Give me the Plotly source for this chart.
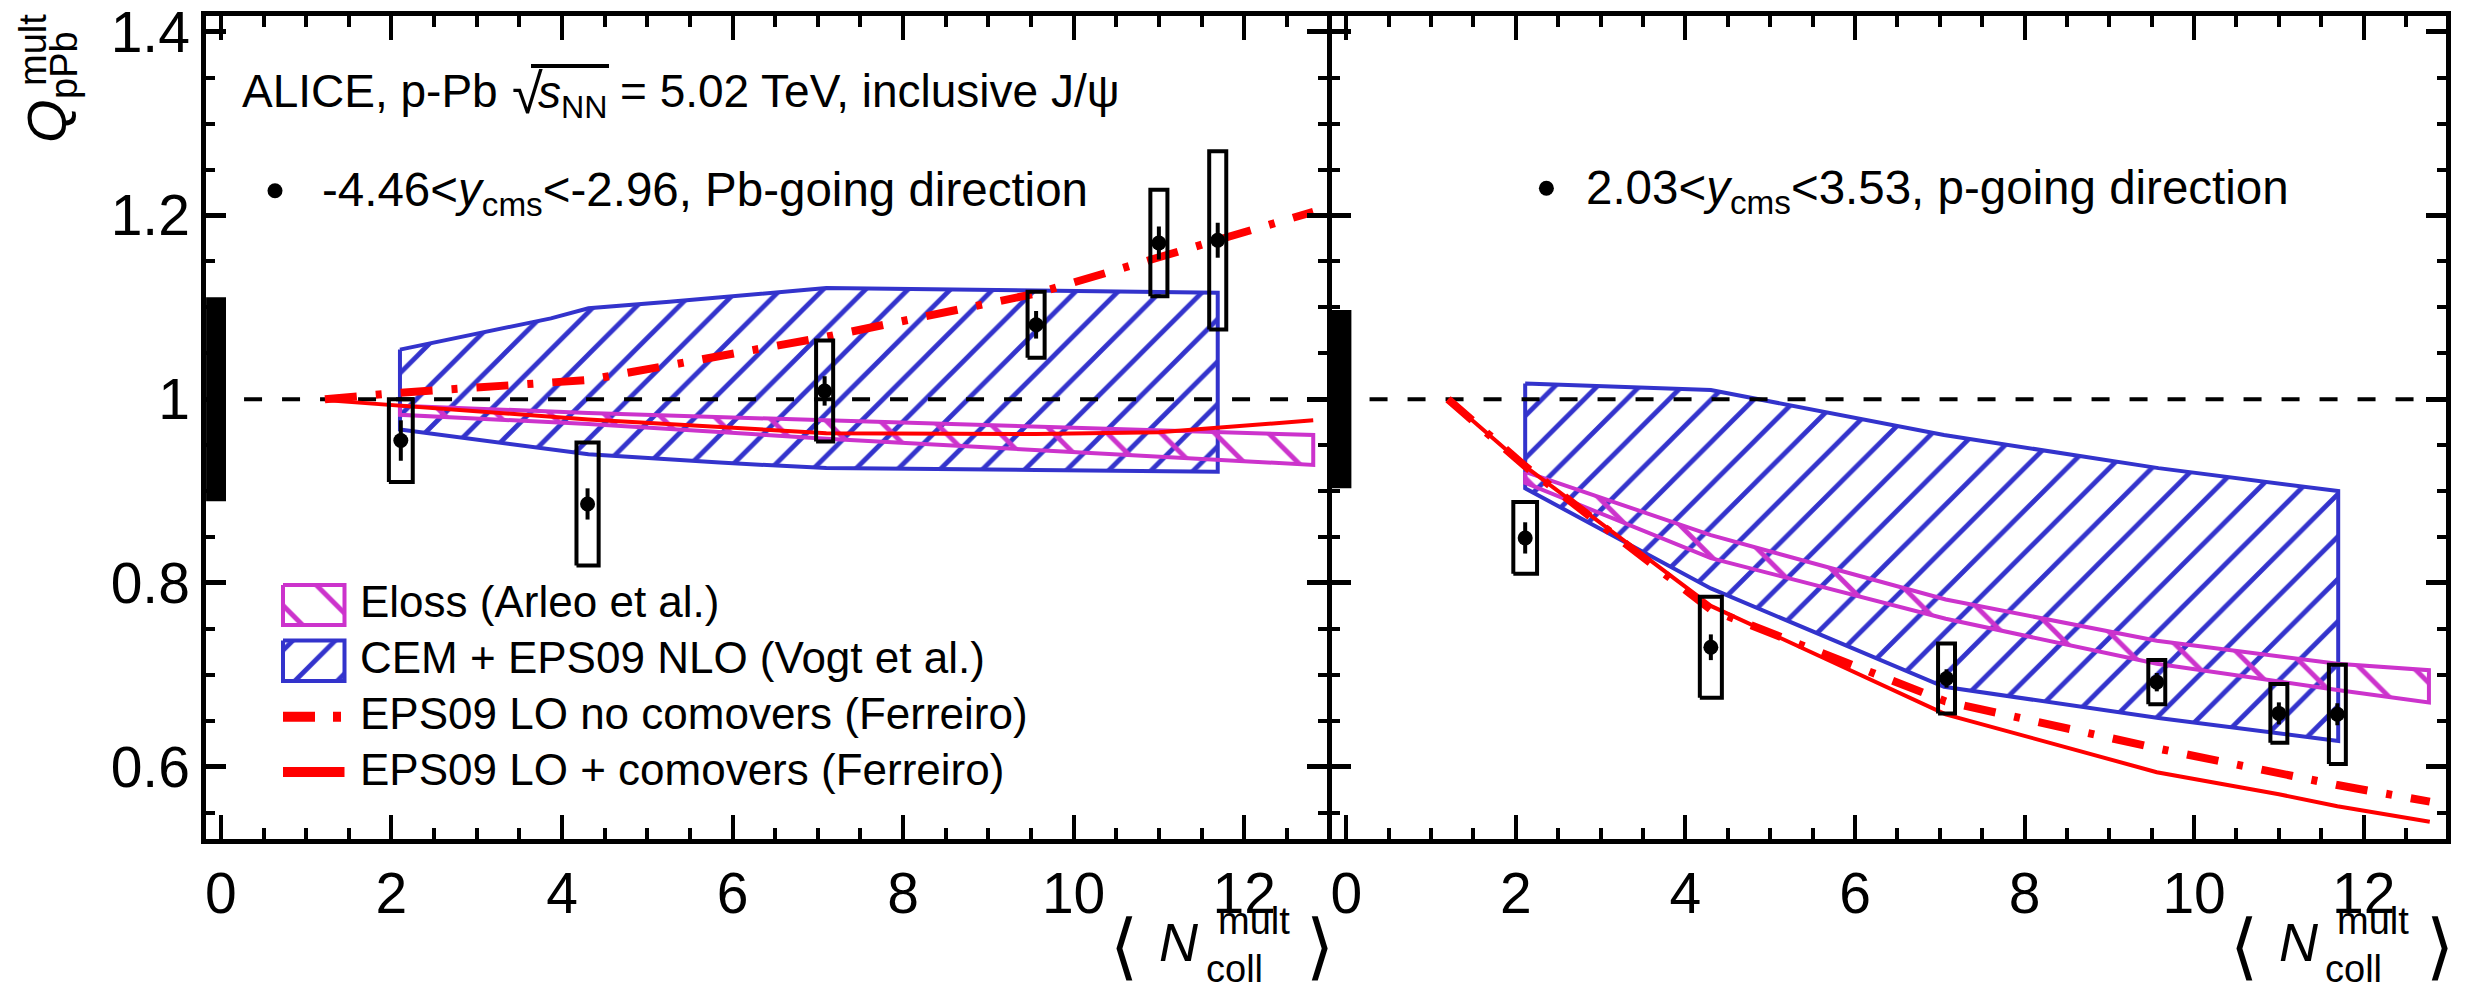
import plotly.graph_objects as go

FONT = "Liberation Sans, Arial, Helvetica, sans-serif"
W, H = 2471, 991

BLUE = "rgb(51,51,204)"
MAGENTA = "rgb(204,51,204)"
RED = "rgb(255,0,0)"

# ---------------------------------------------------------------- data
# <N_coll^mult> of the multiplicity classes
ncoll = [2.11, 4.30, 7.08, 9.56, 11.00, 11.69]
box_halfwidth = [0.14, 0.13, 0.10, 0.10, 0.10, 0.10]

# Q_pPb^mult, -4.46 < y_cms < -2.96 (Pb-going)
q_bwd = [0.955, 0.886, 1.009, 1.081, 1.170, 1.173]
q_bwd_stat = [0.022, 0.017, 0.016, 0.015, 0.018, 0.019]
q_bwd_syst = [0.045, 0.067, 0.055, 0.036, 0.058, 0.097]
glob_bwd = 0.111

# Q_pPb^mult, 2.03 < y_cms < 3.53 (p-going)
q_fwd = [0.849, 0.730, 0.696, 0.692, 0.658, 0.657]
q_fwd_stat = [0.017, 0.014, 0.010, 0.010, 0.012, 0.012]
q_fwd_syst = [0.039, 0.055, 0.038, 0.024, 0.032, 0.054]
glob_fwd = 0.097

# Eloss (Arleo et al.)
eloss_bwd_x = [2.10, 4.31, 7.10, 9.56, 11.69, 12.81]
eloss_bwd_hi = [0.993, 0.985, 0.977, 0.970, 0.965, 0.961]
eloss_bwd_lo = [0.983, 0.973, 0.957, 0.945, 0.934, 0.9285]
eloss_fwd_x = [2.11, 4.30, 7.07, 9.56, 11.69, 12.77]
eloss_fwd_hi = [0.921, 0.852, 0.782, 0.737, 0.712, 0.705]
eloss_fwd_lo = [0.909, 0.827, 0.761, 0.712, 0.6835, 0.670]

# CEM + EPS09 NLO (Vogt et al.)
cem_bwd_x_hi = [2.10, 2.85, 3.87, 4.31, 5.26, 7.10, 9.56, 11.00, 11.69]
cem_bwd_hi = [1.054, 1.068, 1.088, 1.099, 1.106, 1.121, 1.118, 1.117, 1.116]
cem_bwd_x_lo = [2.10, 4.31, 5.85, 7.10, 9.56, 11.00, 11.69]
cem_bwd_lo = [0.967, 0.940, 0.931, 0.925, 0.923, 0.922, 0.921]
cem_fwd_x = [2.11, 4.30, 7.05, 9.58, 11.70]
cem_fwd_hi = [1.017, 1.010, 0.961, 0.925, 0.900]
cem_fwd_lo = [0.903, 0.794, 0.687, 0.653, 0.628]

# EPS09 LO (Ferreiro), without / with comovers
ferr_bwd_x = [1.22, 2.10, 4.31, 7.10, 9.56, 11.00, 11.69, 12.81]
ferr_bwd_nocomov = [1.000, 1.007, 1.021, 1.068, 1.115, 1.155, 1.175, 1.204]
ferr_bwd_comov = [0.999, 0.993, 0.978, 0.963, 0.962, 0.964, 0.969, 0.977]
ferr_fwd_x = [1.20, 2.11, 4.30, 7.07, 9.56, 11.00, 11.69, 12.78]
ferr_fwd_nocomov = [1.000, 0.927, 0.771, 0.671, 0.620, 0.593, 0.580, 0.562]
ferr_fwd_comov = [1.000, 0.927, 0.775, 0.657, 0.594, 0.570, 0.557, 0.540]

legend_labels = ["Eloss (Arleo et al.)", "CEM + EPS09 NLO (Vogt et al.)",
                 "EPS09 LO no comovers (Ferreiro)", "EPS09 LO + comovers (Ferreiro)"]

# ---------------------------------------------------------------- frame geometry
XR = [-0.174, 12.972]
YR = [0.5208, 1.4176]
LW = 4.5
dom_y = [1 - 839.45 / H, 1 - 15.55 / H]
dom_x1 = [206.05 / W, 1327.05 / W]
dom_x2 = [1331.55 / W, 2446.05 / W]
DASHDOT = "32px,19px,6px,19px"


def band(x_hi, y_hi, x_lo, y_lo, color, shape, size, solidity, xa, ya):
    xs = list(x_hi) + list(x_lo)[::-1] + [x_hi[0]]
    ys = list(y_hi) + list(y_lo)[::-1] + [y_hi[0]]
    return go.Scatter(x=xs, y=ys, mode="lines", fill="toself",
                      fillcolor="rgba(0,0,0,0)",
                      fillpattern=dict(shape=shape, fgcolor=color, bgcolor="rgba(0,0,0,0)",
                                       size=size, solidity=solidity, fillmode="replace"),
                      line=dict(color=color, width=4), xaxis=xa, yaxis=ya,
                      hoverinfo="skip")


def syst_boxes(x, y, s, hw, xa, ya):
    xs, ys = [], []
    for xi, yi, si, wi in zip(x, y, s, hw):
        xs += [xi - wi, xi + wi, xi + wi, xi - wi, xi - wi, None]
        ys += [yi - si, yi - si, yi + si, yi + si, yi - si, None]
    return go.Scatter(x=xs, y=ys, mode="lines", line=dict(color="black", width=4),
                      xaxis=xa, yaxis=ya, hoverinfo="skip")


def panel(xa, ya, q, stat, syst, glob, el_x, el_hi, el_lo,
          cx_hi, c_hi, cx_lo, c_lo, fx, f_nc, f_c):
    tr = []
    # global normalisation uncertainty at unity
    tr.append(go.Scatter(x=[XR[0], 0.06, 0.06, XR[0], XR[0]],
                         y=[1 - glob, 1 - glob, 1 + glob, 1 + glob, 1 - glob],
                         mode="lines", fill="toself", fillcolor="black",
                         line=dict(color="black", width=0), xaxis=xa, yaxis=ya))
    tr.append(band(cx_hi, c_hi, cx_lo, c_lo, BLUE, "/", 30, 0.16, xa, ya))
    tr.append(band(el_x, el_hi, el_x, el_lo, MAGENTA, "\\", 38, 0.13, xa, ya))
    tr.append(go.Scatter(x=XR, y=[1, 1], mode="lines",
                         line=dict(color="black", width=4, dash="18px,20px"),
                         xaxis=xa, yaxis=ya))
    tr.append(go.Scatter(x=fx, y=f_c, mode="lines", line=dict(color=RED, width=4),
                         xaxis=xa, yaxis=ya))
    tr.append(go.Scatter(x=fx, y=f_nc, mode="lines",
                         line=dict(color=RED, width=8, dash=DASHDOT),
                         xaxis=xa, yaxis=ya))
    tr.append(syst_boxes(ncoll, q, syst, box_halfwidth, xa, ya))
    tr.append(go.Scatter(x=ncoll, y=q, mode="markers",
                         marker=dict(color="black", size=15),
                         error_y=dict(type="data", array=stat, color="black",
                                      thickness=4, width=0),
                         xaxis=xa, yaxis=ya))
    return tr


traces = []
traces += panel("x", "y", q_bwd, q_bwd_stat, q_bwd_syst, glob_bwd,
                eloss_bwd_x, eloss_bwd_hi, eloss_bwd_lo,
                cem_bwd_x_hi, cem_bwd_hi, cem_bwd_x_lo, cem_bwd_lo,
                ferr_bwd_x, ferr_bwd_nocomov, ferr_bwd_comov)
traces += panel("x2", "y2", q_fwd, q_fwd_stat, q_fwd_syst, glob_fwd,
                eloss_fwd_x, eloss_fwd_hi, eloss_fwd_lo,
                cem_fwd_x, cem_fwd_hi, cem_fwd_x, cem_fwd_lo,
                ferr_fwd_x, ferr_fwd_nocomov, ferr_fwd_comov)

# ---------------------------------------------------------------- legend glyphs (pixel overlay)
def box_glyph(x0, x1, y0, y1, color, shape, size, solidity):
    return go.Scatter(x=[x0, x1, x1, x0, x0], y=[y0, y0, y1, y1, y0], mode="lines",
                      fill="toself", fillcolor="rgba(0,0,0,0)",
                      fillpattern=dict(shape=shape, fgcolor=color, bgcolor="rgba(0,0,0,0)",
                                       size=size, solidity=solidity, fillmode="replace"),
                      line=dict(color=color, width=4), xaxis="x3", yaxis="y3")

traces.append(box_glyph(283, 344.5, 585, 625, MAGENTA, "\\", 38, 0.13))
traces.append(box_glyph(283, 344.5, 640.5, 681, BLUE, "/", 30, 0.16))
traces.append(go.Scatter(x=[283, 341], y=[716.7, 716.7], mode="lines",
                         line=dict(color=RED, width=10, dash="32px,18px,8px,20px"),
                         xaxis="x3", yaxis="y3"))
traces.append(go.Scatter(x=[283, 344.5], y=[772, 772], mode="lines",
                         line=dict(color=RED, width=10), xaxis="x3", yaxis="y3"))
traces.append(go.Scatter(x=[275, 1546.4], y=[190.7, 188.3], mode="markers",
                         marker=dict(color="black", size=15), xaxis="x3", yaxis="y3"))

fig = go.Figure(traces)


def xaxis(domain, anchor):
    return dict(domain=domain, anchor=anchor, range=XR, showline=True, linewidth=LW,
                linecolor="black", mirror="ticks", ticks="inside", ticklen=25,
                tickwidth=4, tickcolor="black", tick0=0, dtick=2,
                ticklabeloverflow="allow", automargin=False,
                tickfont=dict(family=FONT, size=57, color="black"),
                showgrid=False, zeroline=False,
                minor=dict(tick0=0, dtick=0.5, ticks="inside", ticklen=12,
                           tickwidth=3.5, tickcolor="black", showgrid=False))


def yaxis(anchor, labels):
    return dict(domain=dom_y, anchor=anchor, range=YR, showline=True, linewidth=LW,
                linecolor="black", mirror="ticks", ticks="inside", ticklen=20,
                tickwidth=4.5, tickcolor="black", tick0=0, dtick=0.2,
                showticklabels=labels, ticklabeloverflow="allow", automargin=False,
                tickfont=dict(family=FONT, size=57, color="black"),
                showgrid=False, zeroline=False,
                minor=dict(tick0=0, dtick=0.05, ticks="inside", ticklen=9,
                           tickwidth=3.5, tickcolor="black", showgrid=False))


def px(x, y):
    return x / W, 1 - y / H


annotations = []


def text(s, x, y, size, xanchor="left", yanchor="middle", angle=0):
    ax, ay = px(x, y)
    annotations.append(dict(text=s, x=ax, y=ay, xref="paper", yref="paper",
                            xanchor=xanchor, yanchor=yanchor, showarrow=False,
                            textangle=angle,
                            font=dict(family=FONT, size=size, color="black")))


# header
text("ALICE, p-Pb", 240, 91, 46)
text("√", 510, 94, 56)
text("<i>s</i><sub>NN</sub>", 536, 96, 46)
text("= 5.02 TeV, inclusive J/ψ", 618, 91, 46)
text("-4.46&lt;<i>y</i><sub>cms</sub>&lt;-2.96, Pb-going direction", 320, 193, 47.5)
text("2.03&lt;<i>y</i><sub>cms</sub>&lt;3.53, p-going direction", 1583.8, 191, 47.5)

# legend entries
for lab, yc in zip(legend_labels, [601.7, 657.7, 713.7, 769.5]):
    text(lab, 358, yc, 44)

# axis titles
text("<i>Q</i>", 47, 121, 56, xanchor="center", angle=-90)
text("pPb", 64, 65, 38, xanchor="center", angle=-90)
text("mult", 33, 50, 38, xanchor="center", angle=-90)
for right in (1329.3, 2448.3):
    off = right - 2448.3
    text("⟨", 2243.5 + off, 946, 72, xanchor="center")
    text("<i>N</i>", 2298.5 + off, 941.5, 54, xanchor="center")
    text("mult", 2335 + off, 921, 38)
    text("coll", 2323 + off, 969, 38)
    text("⟩", 2439.5 + off, 946, 72, xanchor="center")

shapes = [dict(type="line", xref="paper", yref="paper",
               x0=531 / W, x1=609 / W, y0=1 - 66 / H, y1=1 - 66 / H,
               line=dict(color="black", width=4))]

fig.update_layout(
    width=W, height=H, margin=dict(l=0, r=0, t=0, b=0, autoexpand=False),
    paper_bgcolor="white", plot_bgcolor="rgba(0,0,0,0)", showlegend=False,
    xaxis=xaxis(dom_x1, "y"), yaxis=yaxis("x", True),
    xaxis2=xaxis(dom_x2, "y2"), yaxis2=yaxis("x2", False),
    xaxis3=dict(domain=[0, 1], range=[0, W], visible=False, anchor="y3"),
    yaxis3=dict(domain=[0, 1], range=[H, 0], visible=False, anchor="x3"),
    annotations=annotations, shapes=shapes,
)

fig.write_html("out.html")
